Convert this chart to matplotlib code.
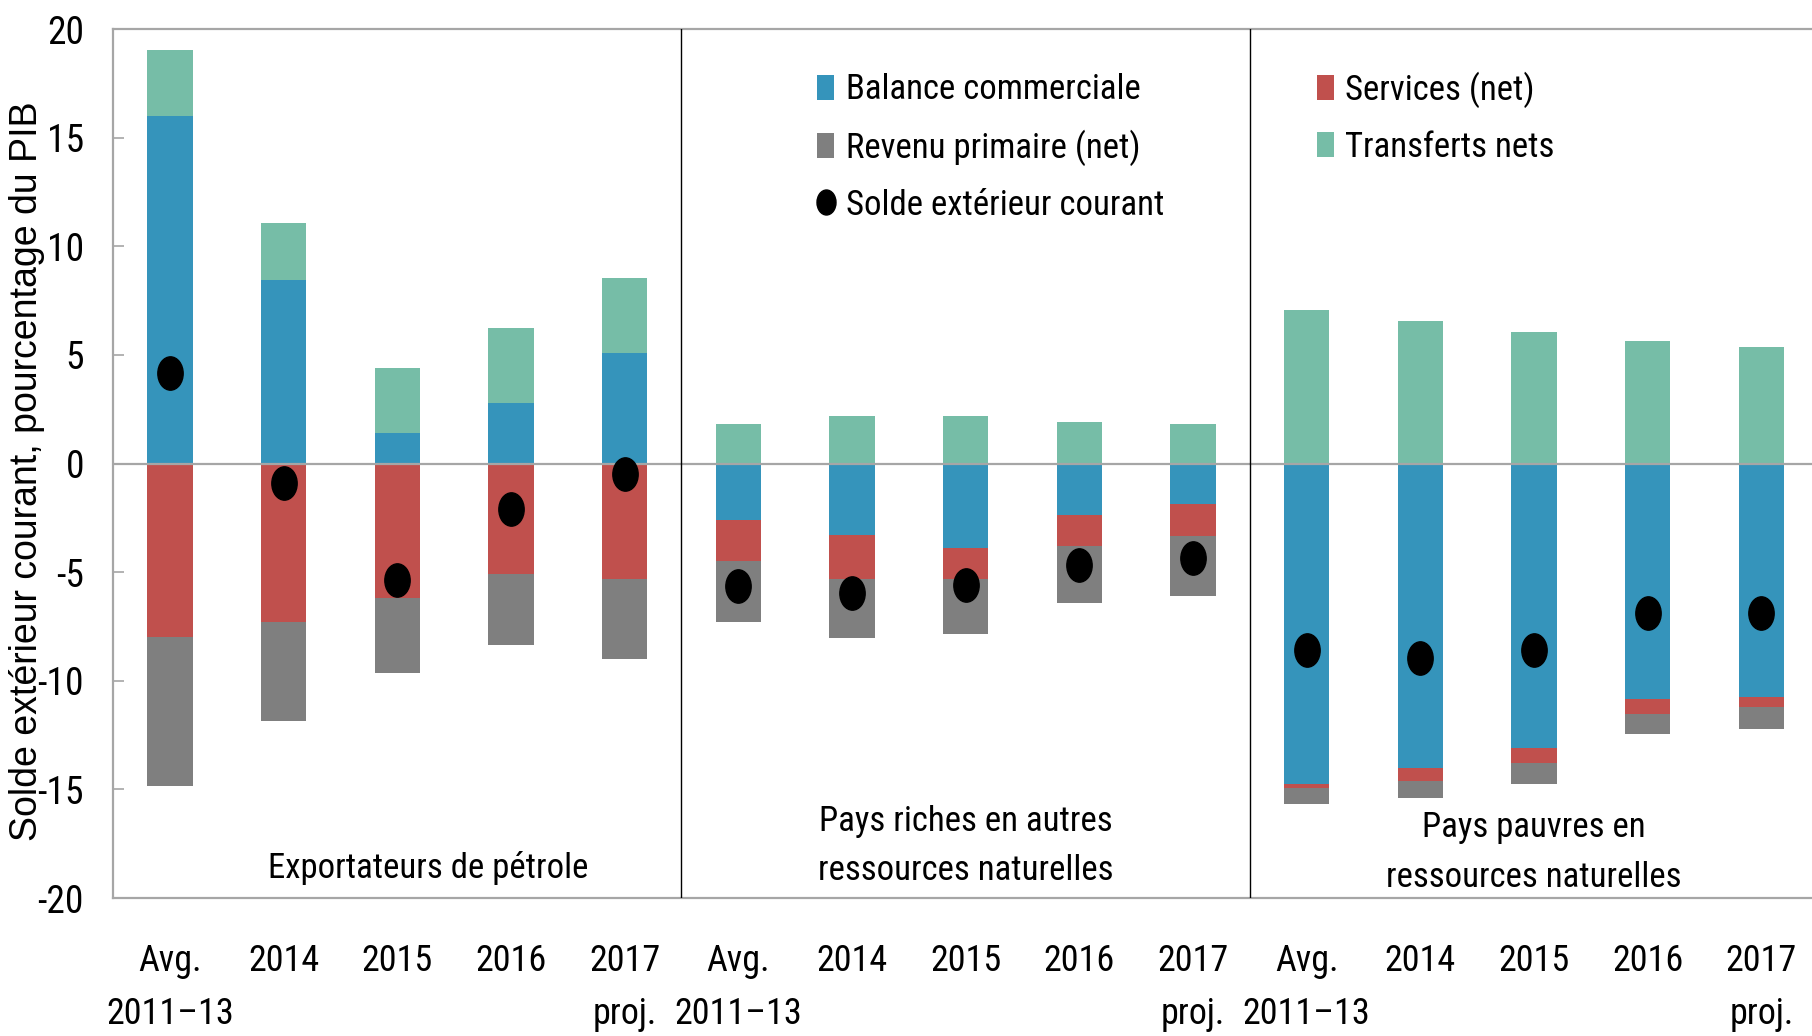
import matplotlib
matplotlib.use("Agg")
import matplotlib.pyplot as plt
import numpy as np
from matplotlib.path import Path
from matplotlib.transforms import Affine2D
from matplotlib.lines import Line2D
from matplotlib.patches import Patch

# ---------------- data ----------------
categories = ["Avg.\n2011–13", "2014", "2015", "2016", "2017\nproj."] * 3
group_labels = ["Exportateurs de pétrole",
                "Pays riches en autres\nressources naturelles",
                "Pays pauvres en\nressources naturelles"]
balance = [16.0, 8.45, 1.4, 2.8, 5.1,
           -2.6, -3.3, -3.9, -2.35, -1.85,
           -14.75, -14.0, -13.1, -10.85, -10.75]
services = [-8.0, -7.3, -6.2, -5.1, -5.3,
            -1.9, -2.0, -1.4, -1.45, -1.5,
            -0.2, -0.6, -0.7, -0.7, -0.45]
primary = [-6.85, -4.55, -3.45, -3.25, -3.7,
           -2.8, -2.75, -2.55, -2.6, -2.75,
           -0.7, -0.8, -0.95, -0.9, -1.0]
transfers = [3.05, 2.6, 3.0, 3.45, 3.45,
             1.8, 2.2, 2.2, 1.9, 1.8,
             7.05, 6.55, 6.05, 5.65, 5.35]
current = [4.15, -0.9, -5.35, -2.1, -0.5,
           -5.65, -5.95, -5.6, -4.65, -4.35,
           -8.6, -8.95, -8.6, -6.9, -6.9]
series_names = ["Balance commerciale", "Services (net)",
                "Revenu primaire (net)", "Transferts nets"]
dot_name = "Solde extérieur courant"
yticks = [20, 15, 10, 5, 0, -5, -10, -15, -20]

# ---------------- style ----------------
NARROW = ['Roboto Condensed', 'DejaVu Sans']
REGULAR = ['Liberation Sans', 'DejaVu Sans']
plt.rcParams['font.family'] = NARROW
BLUE, RED, GRAY, TEAL = '#3594BB', '#C0504D', '#7F7F7F', '#76BDA7'
SPINE = '#A6A6A6'

fig = plt.figure(figsize=(18.12, 10.36), dpi=100)
ax = fig.add_axes([0.0624, 0.1332, 0.941, 0.8388])

x = np.arange(len(categories))
pos = np.zeros(len(x))
neg = np.zeros(len(x))
colors = [BLUE, RED, GRAY, TEAL]
handles = {}
for vals, col, name in zip([balance, services, primary, transfers], colors, series_names):
    v = np.array(vals, dtype=float)
    bottom = np.where(v >= 0, pos, neg)
    ax.bar(x, v, width=0.4, bottom=bottom, color=col, linewidth=0, zorder=2)
    pos += np.clip(v, 0, None)
    neg += np.clip(v, None, 0)
    handles[name] = Patch(facecolor=col, edgecolor='none')

ellipse = Path.unit_circle().transformed(Affine2D().scale(0.76, 1.0))
ax.plot(x, current, linestyle='none', marker=ellipse, markersize=24,
        color='black', zorder=5)
handles[dot_name] = Line2D([], [], linestyle='none', marker=ellipse,
                           markersize=18, color='black')

ax.axhline(0, color=SPINE, lw=1.6, zorder=3)
for xd in [4.5, 9.5]:
    ax.axvline(xd, color='black', lw=1.0, zorder=3)

ax.set_xlim(-0.5, 14.5)
ax.set_ylim(-20, 20)
ax.set_yticks(yticks)
ax.set_yticklabels([str(t) for t in yticks])
ax.set_xticks(x)
ax.set_xticklabels(categories, linespacing=1.6)
ax.tick_params(axis='y', direction='in', length=8, width=1.2, color=SPINE,
               labelsize=27, pad=21)
ax.tick_params(axis='x', length=0, labelsize=26, pad=32.5)
for s in ['left', 'top', 'bottom']:
    ax.spines[s].set_color(SPINE)
    ax.spines[s].set_linewidth(1.6)
ax.spines['right'].set_visible(False)

# group labels
ax.text(2.27, -18.6, group_labels[0], ha='center', va='center', fontsize=25)
ax.text(7.0, -17.6, group_labels[1], ha='center', va='center', fontsize=25,
        linespacing=1.64)
ax.text(12.0, -17.9, group_labels[2], ha='center', va='center', fontsize=25,
        linespacing=1.64)

leg_kw = dict(loc='upper left', frameon=False, prop={'family': NARROW, 'size': 25},
              handlelength=0.49, handleheight=0.72, handletextpad=0.33,
              labelspacing=0.66, borderpad=0, borderaxespad=0)
names1 = ["Balance commerciale", "Revenu primaire (net)", dot_name]
leg1 = ax.legend([handles[n] for n in names1], names1,
                 bbox_to_anchor=(0.413, 0.949), **leg_kw)
ax.add_artist(leg1)
names2 = ["Services (net)", "Transferts nets"]
ax.legend([handles[n] for n in names2], names2,
          bbox_to_anchor=(0.706, 0.951), **leg_kw)

fig.text(27 / 1812, 1 - 471 / 1036, "Solde extérieur courant, pourcentage du PIB",
         rotation=90, ha='center', va='center', fontsize=27, family=REGULAR)

fig.savefig('out.png', dpi=100)
